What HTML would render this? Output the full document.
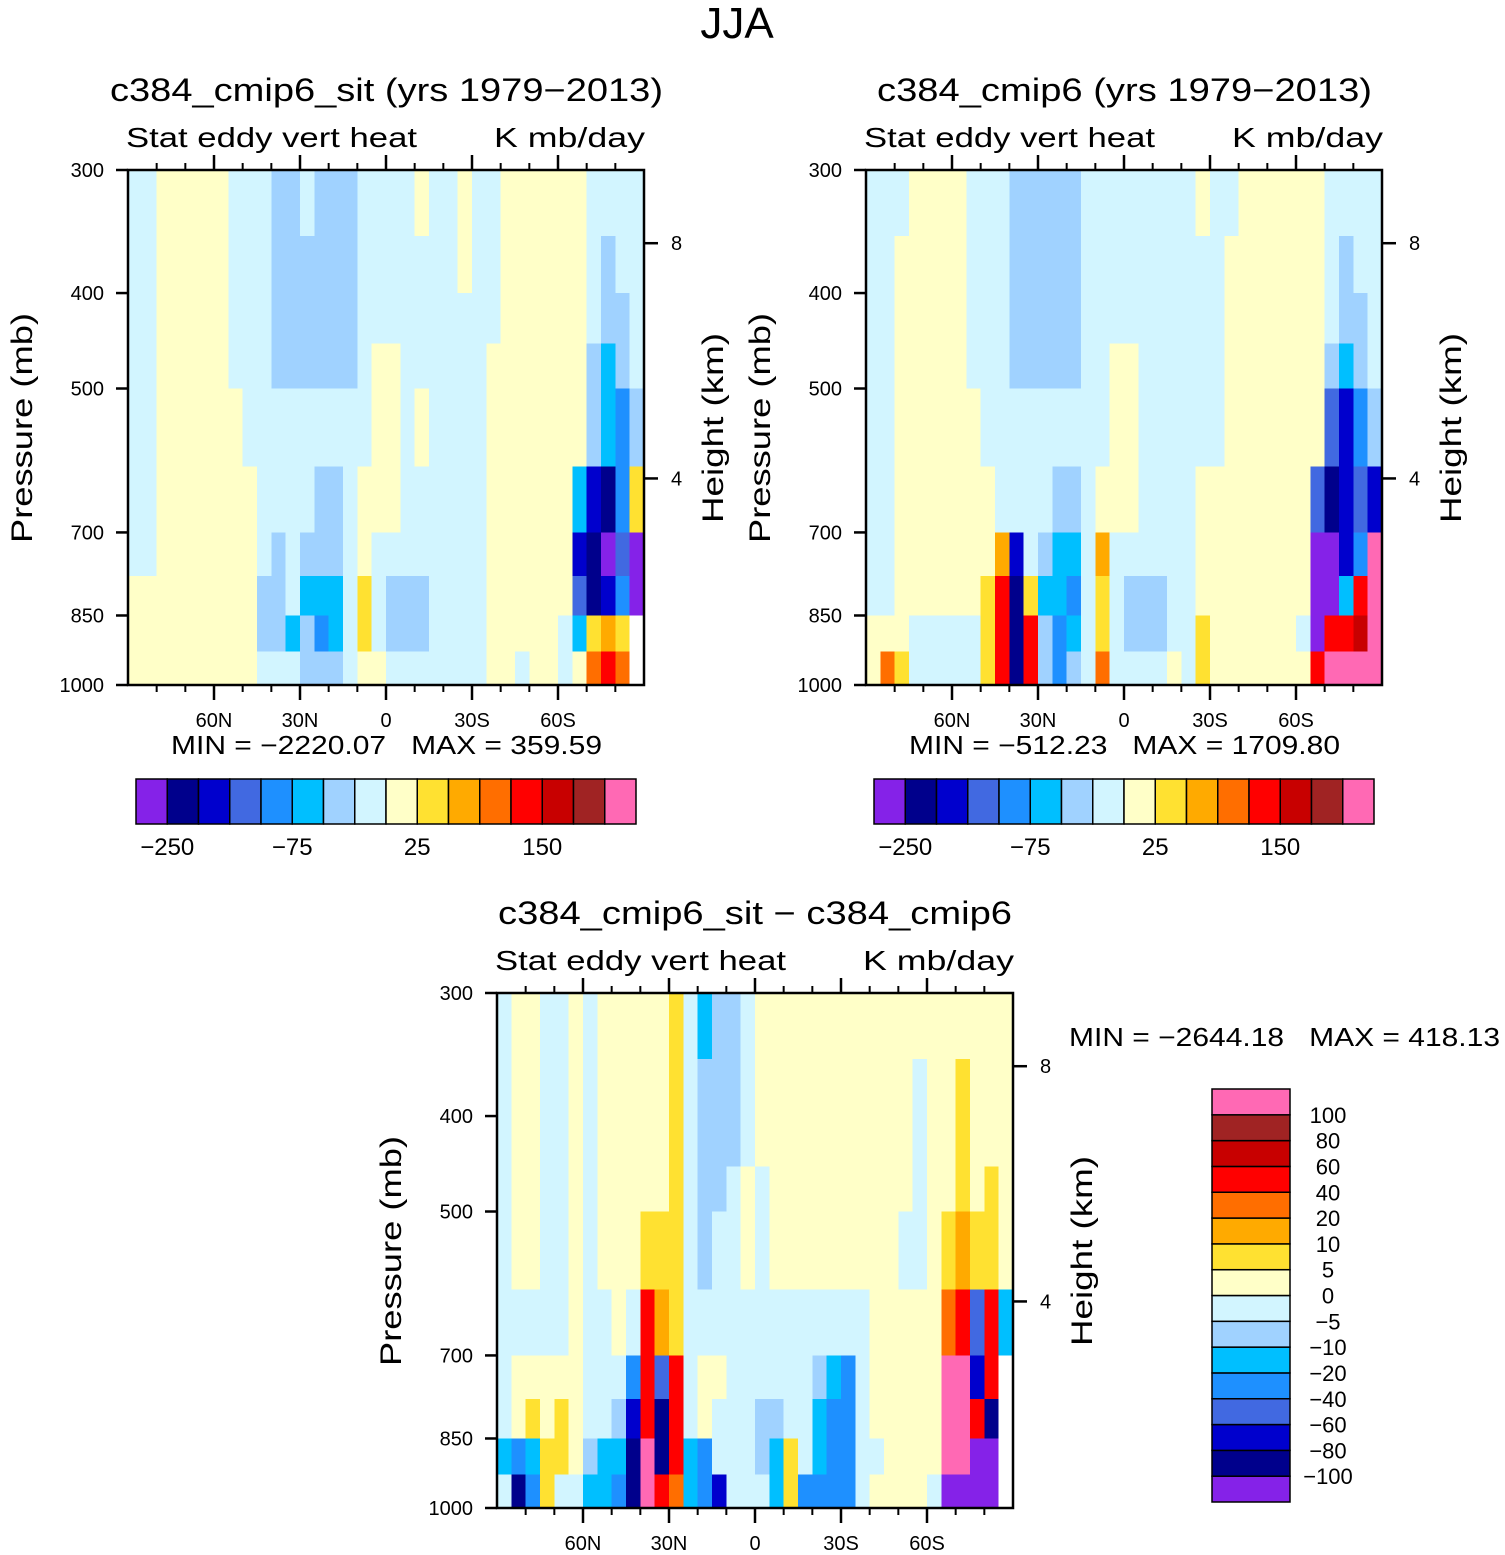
<!DOCTYPE html>
<html><head><meta charset="utf-8"><title>JJA Stat eddy vert heat</title>
<style>
html,body{margin:0;padding:0;background:#fff;}
svg{display:block;font-family:"Liberation Sans",sans-serif;}
text{fill:#000;white-space:pre;}
</style></head>
<body>
<svg id="fig" width="1505" height="1555" viewBox="0 0 1505 1555" xmlns="http://www.w3.org/2000/svg">
<rect x="0" y="0" width="1505" height="1555" fill="#fff"/>
<text x="737" y="38" font-size="44" text-anchor="middle">JJA</text>
</svg>
<script>
// ---- data ----
const latEdges = [90,85,80,75,70,65,60,55,50,45,40,35,30,25,20,15,10,5,0,-5,-10,-15,-20,-25,-30,-35,-40,-45,-50,-55,-60,-65,-70,-75,-80,-85,-90];
const pressureEdges = [300,350,400,450,500,600,700,775,850,925,1000];
const pressureTicks = [300,400,500,700,850,1000];
const heightTickP = [356,617];
const heightTickLabels = ['8','4'];
const latTicks = [60,30,0,-30,-60];
const latTickLabels = ['60N','30N','0','30S','60S'];
const latMinor = [80,70,50,40,20,10,-10,-20,-40,-50,-70,-80];
const levelColors = ['#8522e8','#00008c','#0000cd','#4169e1','#1e90ff','#00bfff','#a0d2ff','#d2f5ff','#ffffc8','#ffe131','#ffaa00','#ff6e00','#ff0000','#c80000','#a02323','#ff69b4'];
const cbLabelsTop = ['\u2212250','\u221275','25','150'];
const cbLabelIdxTop = [1,5,9,13];
const cbLabelsDiff = ['100','80','60','40','20','10','5','0','\u22125','\u221210','\u221220','\u221240','\u221260','\u221280','\u2212100'];
// Level-index fields (rows top->bottom by pressure band, one char per 5deg lat band, 90N->90S; w = missing)
const field1 = [
 "77"+"88888"+"777"+"66"+"7"+"666"+"7777"+"8"+"77"+"8"+"77"+"888888"+"7777",
 "77"+"88888"+"777"+"666666"+"7777"+"7"+"77"+"8"+"77"+"888888"+"7677",
 "77"+"88888"+"777"+"666666"+"7777777"+"7"+"7"+"7"+"888888"+"7667",
 "77"+"88888"+"777"+"666666"+"7"+"88"+"777777"+"8"+"888888"+"6567",
 "77"+"88888"+"8"+"777777777"+"88"+"7"+"8"+"7777"+"8"+"888888"+"6546",
 "77"+"88888"+"88"+"77"+"77"+"66"+"7"+"888"+"7"+"7"+"7777"+"888888"+"5"+"2149",
 "77"+"8888888"+"7"+"6"+"7"+"6"+"66"+"7"+"8"+"77"+"7"+"77777"+"888888"+"21030",
 "888888888"+"66"+"7"+"555"+"7"+"9"+"7"+"666"+"7777"+"888888"+"31240",
 "888888888"+"6"+"6"+"5"+"6"+"4"+"5"+"7"+"9"+"7"+"666"+"7777"+"88888"+"7"+"59a9w",
 "888888888"+"777"+"666"+"7"+"88"+"777"+"7777"+"8"+"8"+"7"+"88"+"7"+"8bcbw"
];
const field2 = [
 "777"+"8888"+"777"+"66666"+"77777777"+"8"+"77"+"8"+"8888"+"8"+"7777",
 "77"+"88888"+"777"+"66666"+"77777777"+"77"+"8"+"888888"+"7677",
 "77"+"88888"+"777"+"66666"+"77777777"+"77"+"8"+"888888"+"7667",
 "77"+"88888"+"777"+"66666"+"77"+"88"+"777777"+"8"+"888888"+"6567",
 "77"+"88888"+"8"+"777777777"+"88"+"77"+"7777"+"8"+"888888"+"3246",
 "77"+"88888"+"88"+"777"+"7"+"66"+"7"+"888"+"7777"+"88"+"888888"+"31232",
 "77"+"88888"+"88"+"a"+"2"+"7"+"6"+"55"+"7"+"a"+"7777"+"77"+"88888888"+"0024f",
 "77"+"88888"+"8"+"9"+"c"+"1"+"9"+"5"+"5"+"4"+"7"+"9"+"7"+"666"+"77"+"8"+"8888888"+"005cf",
 "888"+"7777"+"7"+"9"+"c"+"1"+"c"+"6"+"4"+"5"+"7"+"9"+"7"+"666"+"77"+"9"+"88888"+"8"+"7"+"0ccdf",
 "8b9"+"7777"+"7"+"9"+"c"+"1"+"c"+"6"+"4"+"6"+"7"+"b"+"7777"+"8"+"7"+"9"+"888888"+"8"+"cffff"
];
const field3 = [
 "7887787"+"88888"+"9"+"7"+"566"+"7"+"8888"+"8"+"8888888888888",
 "7887787"+"88888"+"9"+"7"+"666"+"7"+"88888888888"+"7"+"88"+"9"+"888",
 "7887787"+"88888"+"9"+"7"+"666"+"7"+"88888888888"+"7"+"88"+"9"+"888",
 "7887787"+"88888"+"9"+"7"+"66"+"7"+"8"+"7"+"8888888888"+"7"+"88"+"9"+"898",
 "7887787"+"888"+"9"+"9"+"9"+"7"+"6"+"77"+"8"+"7"+"88888"+"8888"+"77"+"8"+"9a998",
 "7777787"+"7"+"8"+"7"+"c"+"a"+"9"+"7777"+"77"+"777777"+"7"+"88888"+"bc3c5",
 "78888"+"8"+"777"+"4"+"c"+"3"+"c"+"7"+"88"+"777777"+"6"+"5"+"4"+"7"+"88888"+"ff2cw",
 "7898"+"9"+"8"+"77"+"6"+"2"+"c"+"1"+"c"+"7"+"8"+"777"+"66"+"77"+"5"+"4"+"4"+"7"+"88888"+"ffc1w",
 "5459"+"9"+"8"+"6"+"55"+"1"+"f"+"1"+"c"+"5"+"4"+"777"+"6"+"5"+"9"+"7"+"5"+"44"+"77"+"888"+"8"+"ff00w",
 "7149"+"77"+"55"+"4"+"1"+"f"+"c"+"b"+"5"+"4"+"2"+"777"+"5"+"9"+"4444"+"7"+"8888"+"7"+"0000w"
];

// ---- drawing ----
const NS = 'http://www.w3.org/2000/svg';
const svg = document.getElementById('fig');
function mk(tag, attrs, parent){
  const el = document.createElementNS(NS, tag);
  for (const k in attrs) el.setAttribute(k, attrs[k]);
  (parent||svg).appendChild(el);
  return el;
}
function txt(x,y,s,size,anchor,parent,extra){
  const t = mk('text', Object.assign({x:x,y:y,'font-size':size,'text-anchor':anchor||'start'}, extra||{}), parent);
  t.textContent = s;
  return t;
}
const W = 516, H = 515;

function drawPanel(cfg){
  const g = mk('g', {});
  
  
  const L = cfg.left, T = cfg.top;
  const xS = lat => L + W * (90 - lat) / 180;
  const yS = p => T + H * Math.log(p / 300) / Math.log(1000 / 300);

  const cells = mk('g', {'shape-rendering':'crispEdges'}, g);
  
  
  for (let r = 0; r < cfg.field.length; r++){
    const row = cfg.field[r];
    for (let c = 0; c < latEdges.length - 1; c++){
      const ch = row[Math.min(c, row.length - 1)];
      const fill = ch === 'w' ? '#ffffff' : levelColors[parseInt(ch, 16)];
      const x0 = xS(latEdges[c]), x1 = xS(latEdges[c+1]);
      const y0 = yS(pressureEdges[r]), y1 = yS(pressureEdges[r+1]);
      const cell = mk('rect', {x:x0, y:y0, width:x1-x0+0.6, height:y1-y0+0.6, fill:fill}, cells);
      
      
    }
  }
  const fr = mk('rect', {x:L, y:T, width:W, height:H, fill:'none', stroke:'#000', 'stroke-width':2.5}, g);
  
  

  latTicks.forEach((lat, i) => {
    const x = xS(lat);
    const tb = mk('line', {x1:x, y1:T+H, x2:x, y2:T+H+15, stroke:'#000', 'stroke-width':2.5}, g);
    
    
    const tt = mk('line', {x1:x, y1:T, x2:x, y2:T-15, stroke:'#000', 'stroke-width':2.5}, g);
    
    
    const lb = txt(x, T+H+42, latTickLabels[i], 20, 'middle', g);
    
    
  });
  latMinor.forEach(lat => {
    const x = xS(lat);
    const mb = mk('line', {x1:x, y1:T+H, x2:x, y2:T+H+7, stroke:'#000', 'stroke-width':2}, g);
    
    
    const mt = mk('line', {x1:x, y1:T, x2:x, y2:T-7, stroke:'#000', 'stroke-width':2}, g);
    
    
  });
  pressureTicks.forEach(p => {
    const y = yS(p);
    const tk = mk('line', {x1:L-12, y1:y, x2:L, y2:y, stroke:'#000', 'stroke-width':2.5}, g);
    
    
    const lb = txt(L-24, y+7, String(p), 20, 'end', g);
    
    
  });
  heightTickP.forEach((p, i) => {
    const y = yS(p);
    const tk = mk('line', {x1:L+W, y1:y, x2:L+W+14, y2:y, stroke:'#000', 'stroke-width':2.5}, g);
    
    
    const lb = txt(L+W+27, y+7, heightTickLabels[i], 20, 'start', g);
    
    
  });
  const yt = txt(0, 0, 'Pressure (mb)', 30, 'middle', g, {transform:'translate('+(L-96)+','+(T+258)+') rotate(-90)', textLength:230, lengthAdjust:'spacingAndGlyphs'});
  
  
  const ht = txt(0, 0, 'Height (km)', 30, 'middle', g, {transform:'translate('+(L+W+79)+','+(T+258)+') rotate(-90)', textLength:190, lengthAdjust:'spacingAndGlyphs'});
  
  
  const ti = txt(cfg.titleX, T-69, cfg.title, 32, 'start', g, {textLength:cfg.titleW, lengthAdjust:'spacingAndGlyphs'});
  
  
  const st = txt(L-2, T-23, 'Stat eddy vert heat', 28, 'start', g, {textLength:291, lengthAdjust:'spacingAndGlyphs'});
  
  
  const un = txt(L+W+1, T-23, 'K mb/day', 28, 'end', g, {textLength:151, lengthAdjust:'spacingAndGlyphs'});
  
  
  const mm = txt(cfg.mmX, cfg.mmY, cfg.minmax, 26, 'start', g, {textLength:cfg.mmW, lengthAdjust:'spacingAndGlyphs'});
  
  
}

function drawHorizBar(x0, y0){
  const g = mk('g', {});
  
  
  const bw = 500 / levelColors.length;
  levelColors.forEach((c, i) => {
    const r = mk('rect', {x:x0+i*bw, y:y0, width:bw, height:45, fill:c, stroke:'#000', 'stroke-width':1.5}, g);
    
    
  });
  cbLabelsTop.forEach((s, i) => {
    const t = txt(x0 + cbLabelIdxTop[i]*bw, y0+76, s, 24, 'middle', g);
    
    
  });
}
function drawVertBar(x0, y0){
  const g = mk('g', {});
  
  
  const bh = 413 / levelColors.length;
  const n = levelColors.length;
  levelColors.forEach((c, i) => {
    const r = mk('rect', {x:x0, y:y0+(n-1-i)*bh, width:78, height:bh, fill:c, stroke:'#000', 'stroke-width':1.5}, g);
    
    
  });
  cbLabelsDiff.forEach((s, i) => {
    const t = txt(x0+116, y0+(i+1)*bh+8, s, 22, 'middle', g);
    
    
  });
}

drawPanel({name:'panel-sit', left:128, top:170, field:field1, title:'c384_cmip6_sit (yrs 1979\u22122013)', titleX:110, titleW:553, minmax:'MIN = \u22122220.07   MAX = 359.59', mmX:171, mmY:754, mmW:431});
drawPanel({name:'panel-control', left:866, top:170, field:field2, title:'c384_cmip6 (yrs 1979\u22122013)', titleX:877, titleW:495, minmax:'MIN = \u2212512.23   MAX = 1709.80', mmX:909, mmY:754, mmW:431});
drawPanel({name:'panel-difference', left:497, top:993, field:field3, title:'c384_cmip6_sit \u2212 c384_cmip6', titleX:498, titleW:514, minmax:'MIN = \u22122644.18   MAX = 418.13', mmX:1069, mmY:1046, mmW:431});
drawHorizBar(136, 779);
drawHorizBar(874, 779);
drawVertBar(1212, 1089);
</script>
</body></html>
